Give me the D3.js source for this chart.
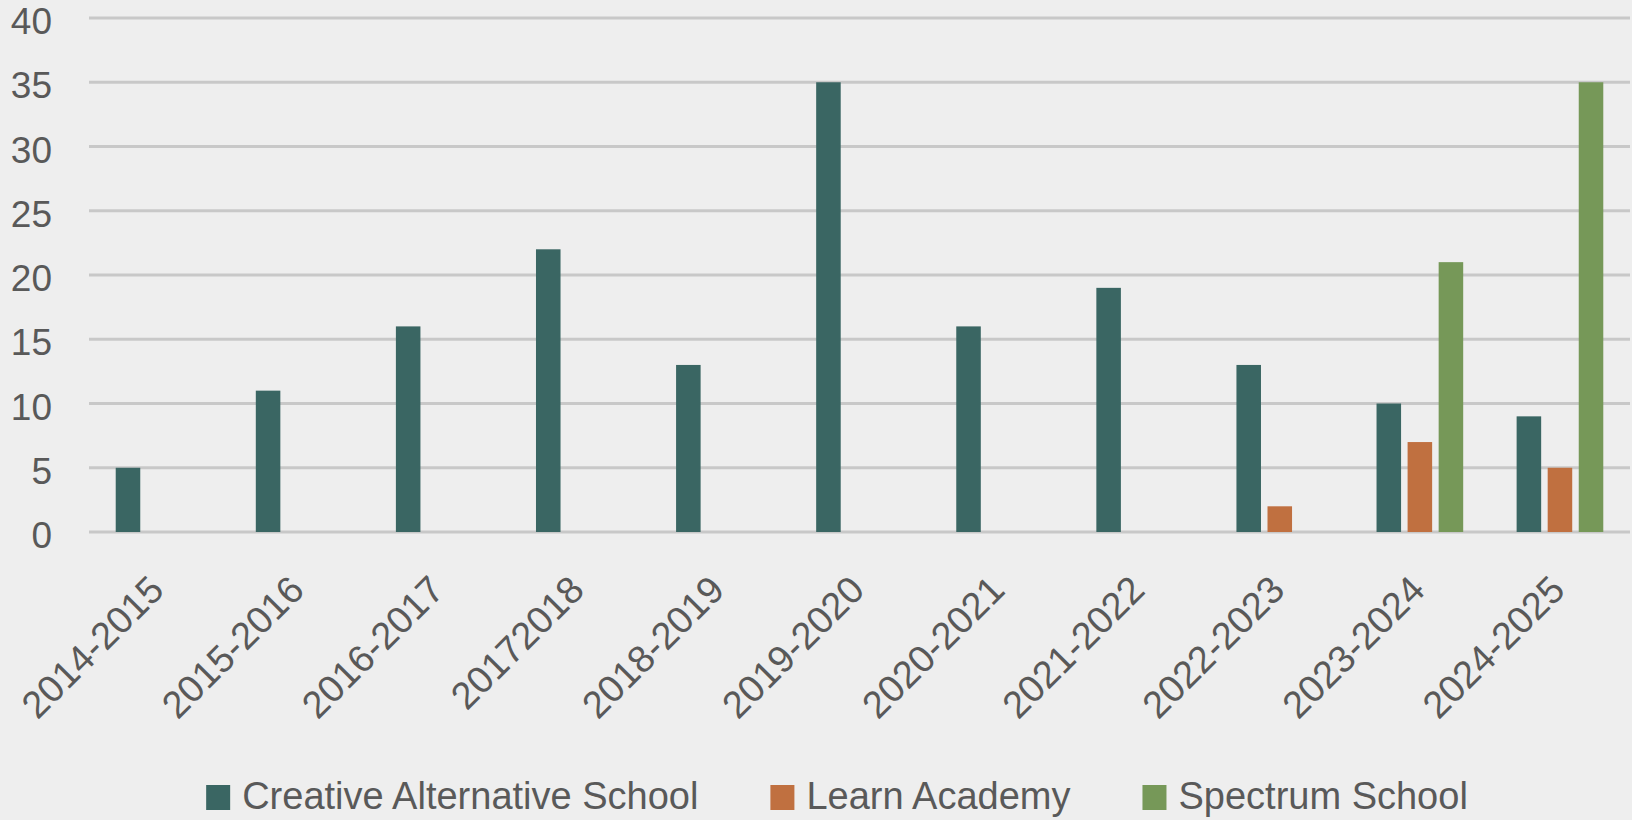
<!DOCTYPE html>
<html>
<head>
<meta charset="utf-8">
<script src="https://cdn.jsdelivr.net/npm/d3@7"></script>
<style>
    html, body { margin: 0; padding: 0; background: #eeeeee; }
    svg { display: block; font-family: "Liberation Sans", Arial, sans-serif; }
</style>
</head>
<body>
<svg id="chart"></svg>
<script>
// chart values
const categories = ["2014-2015", "2015-2016", "2016-2017", "20172018", "2018-2019", "2019-2020",
    "2020-2021", "2021-2022", "2022-2023", "2023-2024", "2024-2025"];
const seriesNames = ["Creative Alternative School", "Learn Academy", "Spectrum School"];
const creativeAlternative = [5, 11, 16, 22, 13, 35, 16, 19, 13, 10, 9];
const learnAcademy = [null, null, null, null, null, null, null, null, 2, 7, 5];
const spectrumSchool = [null, null, null, null, null, null, null, null, null, 21, 35];
const yTicks = [0, 5, 10, 15, 20, 25, 30, 35, 40];
const colors = ["#3a6663", "#c07040", "#769858"];

const seriesValues = [creativeAlternative, learnAcademy, spectrumSchool];

let width = 1632, height = 820;
let margin = { top: 18, right: 2, bottom: 288, left: 89 };

let svg = d3.select("#chart")
    .attr("width", width)
    .attr("height", height);

svg.append("rect")
    .attr("width", width)
    .attr("height", height)
    .attr("fill", "#eeeeee");

let xScale = d3.scaleBand()
    .domain(categories)
    .range([margin.left, width - margin.right])
    .padding(0);

let xInner = d3.scaleBand()
    .domain(seriesNames)
    .range([0, xScale.bandwidth()])
    .paddingInner(0.21)
    .paddingOuter(0.86);

let yScale = d3.scaleLinear()
    .domain([0, 40])
    .range([height - margin.bottom, margin.top]);

// gridlines
svg.append("g")
    .selectAll("line")
    .data(yTicks)
    .enter().append("line")
    .attr("x1", margin.left)
    .attr("x2", width - margin.right)
    .attr("y1", d => yScale(d))
    .attr("y2", d => yScale(d))
    .attr("stroke", "#c8c8c8")
    .attr("stroke-width", 3);

// y axis labels
let yAxis = svg.append("g")
    .attr("transform", "translate(" + (margin.left - 37) + ",0)")
    .call(d3.axisLeft(yScale).tickValues(yTicks).tickSize(0).tickPadding(0));
yAxis.select(".domain").remove();
yAxis.selectAll("text")
    .attr("font-size", 37)
    .attr("font-family", "Liberation Sans, Arial, sans-serif")
    .attr("fill", "#595959")
    .attr("dy", "0.42em");

// bars
let rows = categories.map((c, i) => seriesNames.map((s, j) => ({ cat: c, series: s, idx: j, value: seriesValues[j][i] })));

svg.append("g")
    .selectAll("g")
    .data(rows)
    .enter().append("g")
    .attr("transform", d => "translate(" + xScale(d[0].cat) + ",0)")
    .selectAll("rect")
    .data(d => d.filter(v => v.value != null))
    .enter().append("rect")
    .attr("x", d => xInner(d.series))
    .attr("width", xInner.bandwidth())
    .attr("y", d => yScale(d.value))
    .attr("height", d => yScale(0) - yScale(d.value))
    .attr("fill", d => colors[d.idx]);

// x axis labels, rotated
let xAxis = svg.append("g")
    .attr("transform", "translate(0," + yScale(0) + ")")
    .call(d3.axisBottom(xScale).tickSize(0).tickPadding(0));
xAxis.select(".domain").remove();
xAxis.selectAll("text")
    .attr("font-size", 38)
    .attr("font-family", "Liberation Sans, Arial, sans-serif")
    .attr("fill", "#595959")
    .attr("text-anchor", "end")
    .attr("dy", null)
    .attr("y", null)
    .attr("transform", "translate(7,60) rotate(-45)");

// legend
let legend = svg.append("g");
let items = legend.selectAll("g")
    .data(seriesNames)
    .enter().append("g");

items.append("rect")
    .attr("width", 24)
    .attr("height", 25)
    .attr("y", 785)
    .attr("fill", (d, i) => colors[i]);

items.append("text")
    .attr("x", 36)
    .attr("y", 809)
    .attr("font-size", 38)
    .attr("fill", "#595959")
    .text(d => d);

let xPos = 0;
let offsets = [];
items.each(function () {
    offsets.push(xPos);
    xPos += 36 + this.querySelector("text").getComputedTextLength() + 72;
});
let legendWidth = xPos - 72;
let legendStart = 837 - legendWidth / 2;
items.attr("transform", (d, i) => "translate(" + (legendStart + offsets[i]) + ",0)");
</script>
</body>
</html>
